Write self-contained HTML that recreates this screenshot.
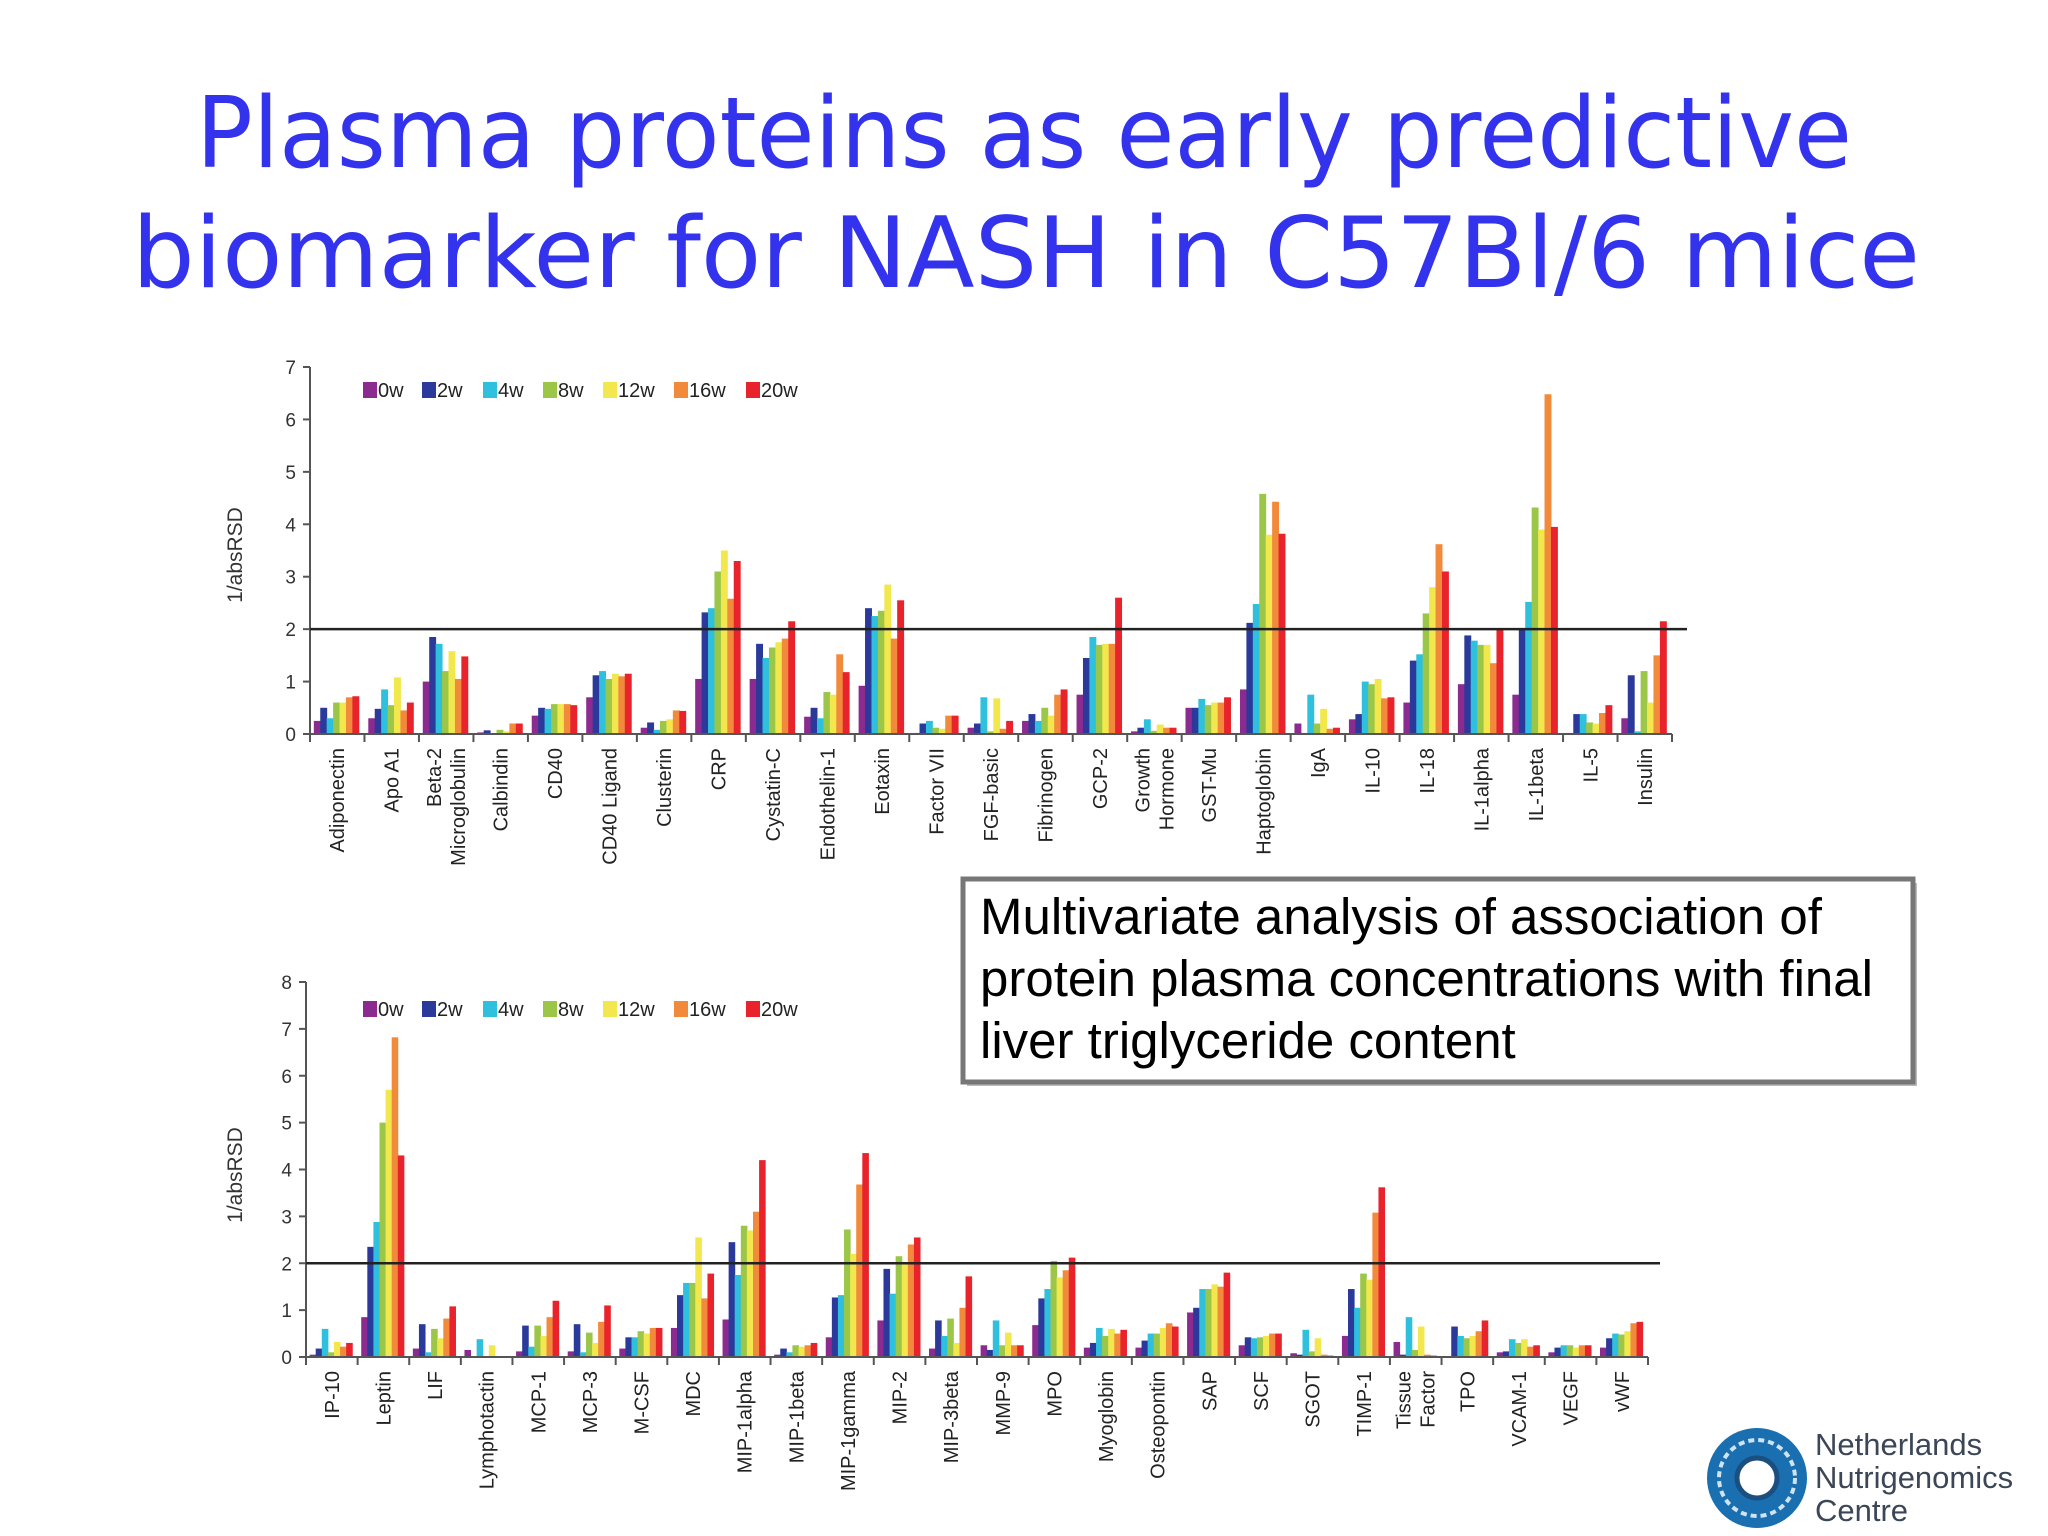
<!DOCTYPE html>
<html><head><meta charset="utf-8"><style>
html,body{margin:0;padding:0;background:#fff;}
svg{display:block;}
</style></head><body>
<svg id="root" width="2048" height="1536" viewBox="0 0 2048 1536" xmlns="http://www.w3.org/2000/svg">
<rect x="0" y="0" width="2048" height="1536" fill="#fff"/>
<text x="196" y="167" font-family="'Comic Sans MS','DejaVu Sans',sans-serif" font-size="98" fill="#3333ee" textLength="1656" lengthAdjust="spacingAndGlyphs">Plasma proteins as early predictive</text>
<text x="132" y="287" font-family="'Comic Sans MS','DejaVu Sans',sans-serif" font-size="98" fill="#3333ee" textLength="1788" lengthAdjust="spacingAndGlyphs">biomarker for NASH in C57Bl/6 mice</text>
<g id="top"></g>
<g id="bottom"></g>
<g>
<rect x="967" y="883" width="950" height="203" fill="#bbb"/>
<rect x="963" y="879" width="950" height="203" fill="#fff" stroke="#777" stroke-width="5"/>
<text font-family="'Liberation Sans',sans-serif" font-size="51" fill="#000">
<tspan x="980" y="934">Multivariate analysis of association of</tspan>
<tspan x="980" y="996">protein plasma concentrations with final</tspan>
<tspan x="980" y="1058">liver triglyceride content</tspan>
</text>
</g>
<g>
<circle cx="1757" cy="1478" r="50" fill="#1a6fb0"/>
<circle cx="1757" cy="1478" r="38" fill="none" stroke="#cfe3f3" stroke-width="4" stroke-dasharray="6 4"/>
<circle cx="1757" cy="1478" r="20" fill="#fff" stroke="#1a4f80" stroke-width="5"/>
<text font-family="'Liberation Sans',sans-serif" font-size="31" fill="#3b4656">
<tspan x="1815" y="1455">Netherlands</tspan>
<tspan x="1815" y="1488">Nutrigenomics</tspan>
<tspan x="1815" y="1521">Centre</tspan>
</text>
</g>
</svg>
<script>
const NS='http://www.w3.org/2000/svg';
const seriesNames=['0w','2w','4w','8w','12w','16w','20w'];
const seriesColors=['#8b2a8f','#2b3a9a','#2ec0dd','#9bc648','#f2e84e','#f28a3c','#e8232c'];
const topCategories=['Adiponectin','Apo A1','Beta-2|Microglobulin','Calbindin','CD40','CD40 Ligand','Clusterin','CRP','Cystatin-C','Endothelin-1','Eotaxin','Factor VII','FGF-basic','Fibrinogen','GCP-2','Growth|Hormone','GST-Mu','Haptoglobin','IgA','IL-10','IL-18','IL-1alpha','IL-1beta','IL-5','Insulin'];
const topValues=[
[.25,.5,.3,.6,.6,.7,.72],[.3,.48,.85,.55,1.08,.45,.6],[1.0,1.85,1.72,1.2,1.58,1.05,1.48],[.03,.07,0,.08,.05,.2,.2],
[.35,.5,.48,.57,.57,.57,.55],[.7,1.12,1.2,1.05,1.15,1.1,1.15],[.12,.22,.08,.25,.28,.45,.44],[1.05,2.32,2.4,3.1,3.5,2.58,3.3],
[1.05,1.72,1.45,1.65,1.75,1.82,2.15],[.33,.5,.3,.8,.75,1.52,1.18],[.92,2.4,2.25,2.35,2.85,1.82,2.55],[.02,.2,.25,.12,.1,.35,.35],
[.12,.2,.7,.05,.68,.1,.25],[.25,.38,.25,.5,.35,.75,.85],[.75,1.45,1.85,1.7,1.72,1.72,2.6],[.05,.12,.28,.06,.18,.12,.12],
[.5,.5,.67,.55,.6,.6,.7],[.85,2.12,2.48,4.58,3.8,4.43,3.82],[.2,.02,.75,.2,.48,.1,.12],[.28,.38,1.0,.95,1.05,.68,.7],
[.6,1.4,1.52,2.3,2.8,3.62,3.1],[.95,1.88,1.78,1.7,1.7,1.35,2.0],[.75,2.0,2.52,4.32,3.9,6.48,3.95],[.02,.38,.38,.22,.2,.4,.55],
[.3,1.12,.05,1.2,.6,1.5,2.15]];
const topTicks=[0,1,2,3,4,5,6,7];
const bottomCategories=['IP-10','Leptin','LIF','Lymphotactin','MCP-1','MCP-3','M-CSF','MDC','MIP-1alpha','MIP-1beta','MIP-1gamma','MIP-2','MIP-3beta','MMP-9','MPO','Myoglobin','Osteopontin','SAP','SCF','SGOT','TIMP-1','Tissue|Factor','TPO','VCAM-1','VEGF','vWF'];
const bottomValues=[
[.05,.18,.6,.1,.32,.22,.3],[.85,2.35,2.88,5.0,5.7,6.82,4.3],[.18,.7,.1,.6,.4,.82,1.08],[.15,0,.38,.02,.25,.02,.02],
[.12,.67,.22,.67,.45,.85,1.2],[.12,.7,.1,.52,.3,.75,1.1],[.18,.42,.42,.55,.5,.62,.62],[.62,1.32,1.58,1.58,2.55,1.25,1.78],
[.8,2.45,1.75,2.8,2.7,3.1,4.2],[.05,.18,.1,.25,.22,.25,.3],[.42,1.27,1.32,2.72,2.2,3.68,4.35],[.78,1.88,1.35,2.15,2.0,2.4,2.55],
[.18,.78,.45,.82,.3,1.05,1.72],[.25,.15,.78,.25,.52,.25,.25],[.68,1.25,1.45,2.05,1.7,1.85,2.12],[.2,.3,.62,.45,.6,.5,.58],
[.2,.35,.5,.5,.62,.72,.65],[.95,1.05,1.45,1.45,1.55,1.5,1.8],[.25,.42,.4,.42,.45,.5,.5],[.08,.05,.58,.12,.4,.05,.03],
[.45,1.45,1.05,1.78,1.65,3.08,3.62],[.32,.05,.85,.15,.65,.05,.03],[.02,.65,.45,.4,.45,.55,.78],[.1,.12,.38,.3,.38,.22,.25],
[.1,.2,.25,.25,.2,.25,.25],[.2,.4,.5,.48,.55,.72,.75]];
const bottomTicks=[0,1,2,3,4,5,6,7,8];
const thresholdValue=2;
const legendX=[363,422,483,543,603,674,746];

function mk(parent,tag,attrs){const e=document.createElementNS(NS,tag);for(const k in attrs)e.setAttribute(k,attrs[k]);parent.appendChild(e);return e;}

function drawChart(g,cats,vals,ticks,cfg){
  const n=cats.length,gw=(cfg.x1-cfg.x0)/n,ymax=ticks[ticks.length-1];
  const yS=v=>cfg.y0-(v/ymax)*(cfg.y0-cfg.yTop);
  const font="'Liberation Sans',sans-serif";
  const ya=mk(g,'line',{x1:cfg.x0,y1:cfg.yTop,x2:cfg.x0,y2:cfg.y0,stroke:'#555','stroke-width':2});
  
  ticks.forEach(t=>{
    const tl=mk(g,'line',{x1:cfg.x0-7,y1:yS(t),x2:cfg.x0,y2:yS(t),stroke:'#555','stroke-width':2});
    
    const tx=mk(g,'text',{x:cfg.x0-14,y:yS(t)+7,'text-anchor':'end','font-family':font,'font-size':19,fill:'#333'});
    tx.textContent=t;
    
  });
  const yt=mk(g,'text',{x:0,y:0,transform:`translate(${cfg.titleX},${cfg.titleY}) rotate(-90)`,'text-anchor':'middle','font-family':font,'font-size':21,fill:'#333'});
  yt.textContent='1/absRSD';
  
  const bw=gw*0.118;
  cats.forEach((c,i)=>{
    const gx=cfg.x0+i*gw;
    vals[i].forEach((v,j)=>{
      const y=yS(v);
      const r=mk(g,'rect',{x:gx+gw*0.07+j*bw,y:y,width:bw+0.5,height:cfg.y0-y,fill:seriesColors[j]});
      
      
    });
    const tk=mk(g,'line',{x1:gx,y1:cfg.y0,x2:gx,y2:cfg.y0+8,stroke:'#555','stroke-width':2});
    
    const parts=c.split('|');
    const cx=gx+gw/2;
    parts.forEach((p,k)=>{
      const off=(k-(parts.length-1)/2)*24;
      const t=mk(g,'text',{x:0,y:0,transform:`translate(${cx+off+7},${cfg.y0+14}) rotate(-90)`,'text-anchor':'end','font-family':font,'font-size':20,fill:'#222'});
      t.textContent=p;
      
    });
  });
  const lt=mk(g,'line',{x1:cfg.x0+n*gw,y1:cfg.y0,x2:cfg.x0+n*gw,y2:cfg.y0+8,stroke:'#555','stroke-width':2});
  
  const xa=mk(g,'line',{x1:cfg.x0,y1:cfg.y0,x2:cfg.x1,y2:cfg.y0,stroke:'#555','stroke-width':2});
  
  const th=mk(g,'line',{x1:cfg.x0,y1:yS(thresholdValue),x2:cfg.lineEnd,y2:yS(thresholdValue),stroke:'#222','stroke-width':2.5});
  
  seriesNames.forEach((s,j)=>{
    const sq=mk(g,'rect',{x:legendX[j],y:cfg.legendY-15,width:14,height:16,fill:seriesColors[j]});
    
    const lt2=mk(g,'text',{x:legendX[j]+15,y:cfg.legendY,'font-family':font,'font-size':20,fill:'#222'});
    lt2.textContent=s;
    
  });
}
drawChart(document.getElementById('top'),topCategories,topValues,topTicks,{x0:310,x1:1672,y0:734,yTop:367,lineEnd:1687,titleX:242,titleY:555,legendY:397});
drawChart(document.getElementById('bottom'),bottomCategories,bottomValues,bottomTicks,{x0:306,x1:1648,y0:1357,yTop:982,lineEnd:1660,titleX:242,titleY:1175,legendY:1016});
</script>
</body></html>
